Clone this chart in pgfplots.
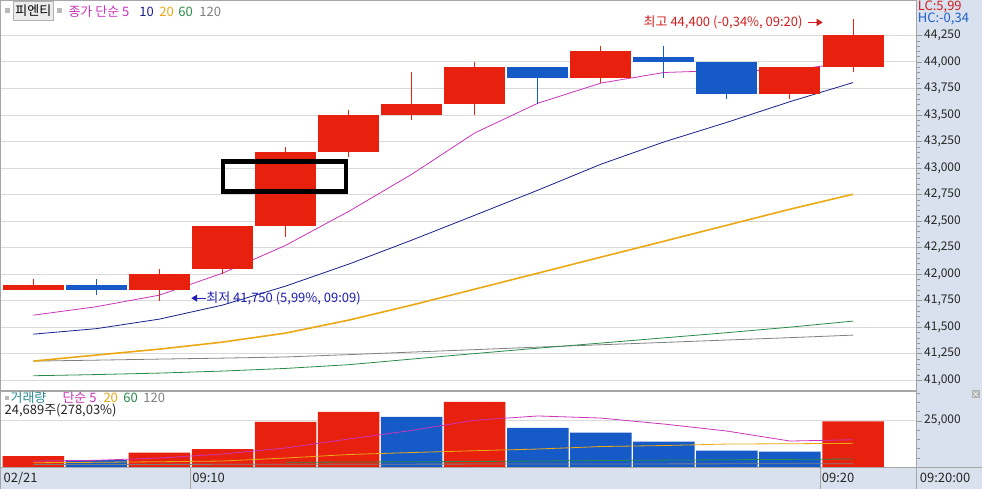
\documentclass[border=0pt]{standalone}
\usepackage{pgfplots}
\pgfplotsset{compat=1.18}
\usetikzlibrary{arrows.meta}
\usepackage{fontspec}
\setmainfont{Noto Sans CJK KR}
\definecolor{cred}{RGB}{232,32,14}
\definecolor{cblue}{RGB}{22,90,200}
\definecolor{ma5}{RGB}{204,51,187}
\definecolor{ma10}{RGB}{24,32,140}
\definecolor{ma20}{RGB}{236,168,20}
\definecolor{ma60}{RGB}{40,140,72}
\definecolor{ma120}{RGB}{128,128,128}
\definecolor{panelbg}{RGB}{216,225,237}
\definecolor{gridc}{RGB}{218,218,218}
\definecolor{volteal}{RGB}{40,140,150}
\definecolor{annred}{RGB}{210,30,30}
\definecolor{annblue}{RGB}{30,30,180}
\definecolor{hcblue}{RGB}{30,95,200}

% #1 position, #2 low, #3 body bottom, #4 body top, #5 high, #6 colour, #7 left edge, #8 right edge
\newcommand{\candle}[8]{%
\addplot[#6, line width=1pt] coordinates {(#1,#2)(#1,#5)};
\addplot[fill=#6, draw=none] coordinates {(#7,#3)(#8,#3)(#8,#4)(#7,#4)};}
\newcommand{\fs}{\fontsize{12}{12}\selectfont}
\newcommand{\fa}{\fontsize{13}{13}\selectfont}

\begin{document}
\begin{tikzpicture}[x=1pt,y=1pt]
\fill[white] (0,0) rectangle (982,489);
\fill[panelbg] (917,0) rectangle (982,489);
\fill[panelbg] (0,0) rectangle (982,22);

% ---------------- price panel ----------------
\begin{axis}[
  at={(0pt,99pt)}, anchor=south west, width=917pt, height=390pt, scale only axis,
  xmin=0.477, xmax=15.0095, ymin=40905.8, ymax=44579.8,
  xtick=\empty,
  ytick={41000,41250,41500,41750,42000,42250,42500,42750,43000,43250,43500,43750,44000,44250},
  minor y tick num=4,
  ytick pos=right, yticklabel pos=right,
  scaled y ticks=false,
  ymajorgrids, grid style={gridc, line width=0.8pt},
  axis line style={gray!70},
  tick align=outside,
  major tick length=5pt, minor tick length=3pt,
  ytick style={gray!80},
  yticklabel style={font=\fs, anchor=west, text=black!85, xshift=-1pt},
  /pgf/number format/1000 sep={,},
  /pgf/number format/assume math mode=true,
]
% moving averages (price)
\addplot[ma120, line width=0.8pt] coordinates {(1,41179)(2,41188)(3,41198)(4,41207)(5,41218)(6,41240)(7,41264)(8,41287)(9,41311)(10,41333)(11,41355)(12,41378)(13,41400)(14,41424)};
\addplot[ma60, line width=0.8pt] coordinates {(1,41041)(2,41052)(3,41066)(4,41085)(5,41110)(6,41145)(7,41198)(8,41250)(9,41301)(10,41349)(11,41398)(12,41447)(13,41499)(14,41556)};
\addplot[ma20, line width=1.6pt] coordinates {(1,41179)(2,41236)(3,41292)(4,41358)(5,41443)(6,41565)(7,41707)(8,41857)(9,42008)(10,42159)(11,42309)(12,42460)(13,42611)(14,42752)};
\addplot[ma10, line width=0.8pt] coordinates {(1,41433)(2,41485)(3,41575)(4,41707)(5,41886)(6,42093)(7,42319)(8,42554)(9,42790)(10,43035)(11,43245)(12,43430)(13,43625)(14,43805)};
\addplot[ma5, line width=0.8pt] coordinates {(1,41612)(2,41692)(3,41801)(4,42008)(5,42270)(6,42590)(7,42940)(8,43330)(9,43610)(10,43800)(11,43900)(12,43920)(13,43920)(14,44000)};
% candles
\candle{1}{41850}{41850}{41900}{41950}{cred}{0.516}{1.484}
\candle{2}{41800}{41850}{41900}{41950}{cblue}{1.516}{2.484}
\candle{3}{41750}{41850}{42000}{42050}{cred}{2.516}{3.484}
\candle{4}{42000}{42050}{42450}{42450}{cred}{3.516}{4.484}
\candle{5}{42350}{42450}{43150}{43200}{cred}{4.516}{5.484}
\candle{6}{43100}{43150}{43500}{43550}{cred}{5.516}{6.484}
\candle{7}{43450}{43500}{43600}{43900}{cred}{6.516}{7.484}
\candle{8}{43500}{43600}{43950}{44000}{cred}{7.516}{8.484}
\candle{9}{43600}{43850}{43950}{43950}{cblue}{8.516}{9.484}
\candle{10}{43800}{43850}{44100}{44150}{cred}{9.516}{10.484}
\candle{11}{43850}{44000}{44050}{44150}{cblue}{10.516}{11.484}
\candle{12}{43650}{43700}{44000}{44000}{cblue}{11.516}{12.484}
\candle{13}{43650}{43700}{43950}{43950}{cred}{12.516}{13.484}
\candle{14}{43900}{43950}{44250}{44400}{cred}{13.516}{14.484}
\draw[black, line width=4.2pt] (axis cs:4.008,42778) rectangle (axis cs:5.963,43061);
\end{axis}

% ---------------- volume panel ----------------
\begin{axis}[
  at={(0pt,22pt)}, anchor=south west, width=917pt, height=76pt, scale only axis,
  xmin=0.477, xmax=15.0095, ymin=0, ymax=41040,
  xtick=\empty,
  ytick={25000},
  minor ytick={5000,10000,15000,20000,30000,35000,40000},
  ytick pos=right, yticklabel pos=right,
  scaled y ticks=false,
  ymajorgrids, grid style={gridc, line width=0.8pt},
  axis line style={gray!70},
  tick align=outside,
  major tick length=5pt, minor tick length=3pt,
  ytick style={gray!80},
  yticklabel style={font=\fs, anchor=west, text=black!85, xshift=-1pt},
  /pgf/number format/1000 sep={,},
  /pgf/number format/assume math mode=true,
]
\addplot[ybar, bar shift=0pt, bar width=0.975, fill=cred, draw=none] coordinates {(1,5940)(3,7720)(4,9720)(5,24460)(6,29860)(8,35260)(14,24689)};
\addplot[ybar, bar shift=0pt, bar width=0.975, fill=cblue, draw=none] coordinates {(2,3780)(7,27160)(9,21220)(10,18520)(11,13660)(12,8800)(13,8260)};
\addplot[ma120, line width=0.8pt] coordinates {(1,1350)(5,1480)(10,1650)(14,1780)};
\addplot[ma60, line width=0.8pt] coordinates {(5,2540)(6,2700)(8,2970)(10,3510)(12,3940)(14,4320)};
\addplot[ma20, line width=0.8pt] coordinates {(1,2320)(2,2540)(3,2860)(4,3240)(5,4860)(6,6750)(7,7830)(8,8800)(9,9720)(10,11070)(11,11610)(12,12420)(13,12580)(14,12800)};
\addplot[ma5, line width=0.8pt] coordinates {(1,3240)(2,3620)(3,4860)(4,7020)(5,10300)(6,15120)(7,19760)(8,25270)(9,27590)(10,26460)(11,23220)(12,19440)(13,14040)(14,14740)};
\end{axis}

% ---------------- frame details ----------------
\draw[gray!70, line width=0.8pt] (917,0) -- (917,489);
\draw[gray!70, line width=0.8pt] (0,22) -- (982,22);
\draw[gray!70, line width=0.8pt] (0.4,0) -- (0.4,489);
\foreach \xx in {190,821} \draw[gray!70, line width=0.8pt] (\xx,0) -- (\xx,22);

% top-left legend
\fill[gray!55] (4.5,476) rectangle (9.5,481);
\draw[fill=gray!15, draw=gray!60] (13,469) rectangle (53,488);
\node[font=\fa, inner sep=0pt] at (33,478.5) {피엔티};
\fill[gray!55] (56.5,476) rectangle (61.5,481);
\node[font=\fa, anchor=west, inner sep=0pt, text=ma5] at (68,478) {종가 단순 5};
\node[font=\fa, anchor=west, inner sep=0pt, text=ma10] at (139,478) {10};
\node[font=\fa, anchor=west, inner sep=0pt, text=ma20] at (159,478) {20};
\node[font=\fa, anchor=west, inner sep=0pt, text=ma60] at (178,478) {60};
\node[font=\fa, anchor=west, inner sep=0pt, text=ma120] at (199,478) {120};

% right panel header
\node[font=\fa, anchor=west, inner sep=0pt, text=annred] at (918,482) {LC:5,99};
\node[font=\fa, anchor=west, inner sep=0pt, text=hcblue] at (918,470) {HC:-0,34};

% annotations
\node[font=\fa, anchor=east, inner sep=0pt, text=annred] at (803,467) {최고 44,400 (-0,34\%, 09:20)};
\draw[annred, line width=1.2pt, -{Triangle[length=6pt,width=7pt]}] (808,467) -- (823,467);
\draw[annblue, line width=1.2pt, -{Triangle[length=6pt,width=7pt]}] (206,191) -- (191,191);
\node[font=\fa, anchor=west, inner sep=0pt, text=annblue] at (206,191) {최저 41,750 (5,99\%, 09:09)};

% volume legend
\fill[gray!55] (4.5,89) rectangle (8.5,93);
\node[font=\fa, anchor=west, inner sep=0pt, text=volteal] at (10,91.3) {거래량};
\node[font=\fa, anchor=west, inner sep=0pt, text=ma5] at (62,91.3) {단순 5};
\node[font=\fa, anchor=west, inner sep=0pt, text=ma20] at (103,91.3) {20};
\node[font=\fa, anchor=west, inner sep=0pt, text=ma60] at (123,91.3) {60};
\node[font=\fa, anchor=west, inner sep=0pt, text=ma120] at (143,91.3) {120};
\node[font=\fa, anchor=west, inner sep=0pt, text=black!85] at (4,79) {24,689주(278,03\%)};

% close button
\fill[gray!60] (972,91) rectangle (980,99);
\draw[white, line width=0.6pt] (973.5,92.5) -- (978.5,97.5) (973.5,97.5) -- (978.5,92.5);

% time axis labels
\node[font=\fa, anchor=west, inner sep=0pt, text=black!85] at (3,11) {02/21};
\node[font=\fa, anchor=west, inner sep=0pt, text=black!85] at (192,11) {09:10};
\node[font=\fa, anchor=west, inner sep=0pt, text=black!85] at (822,11) {09:20};
\node[font=\fa, anchor=west, inner sep=0pt, text=black!85] at (920,11) {09:20:00};
\end{tikzpicture}
\end{document}
